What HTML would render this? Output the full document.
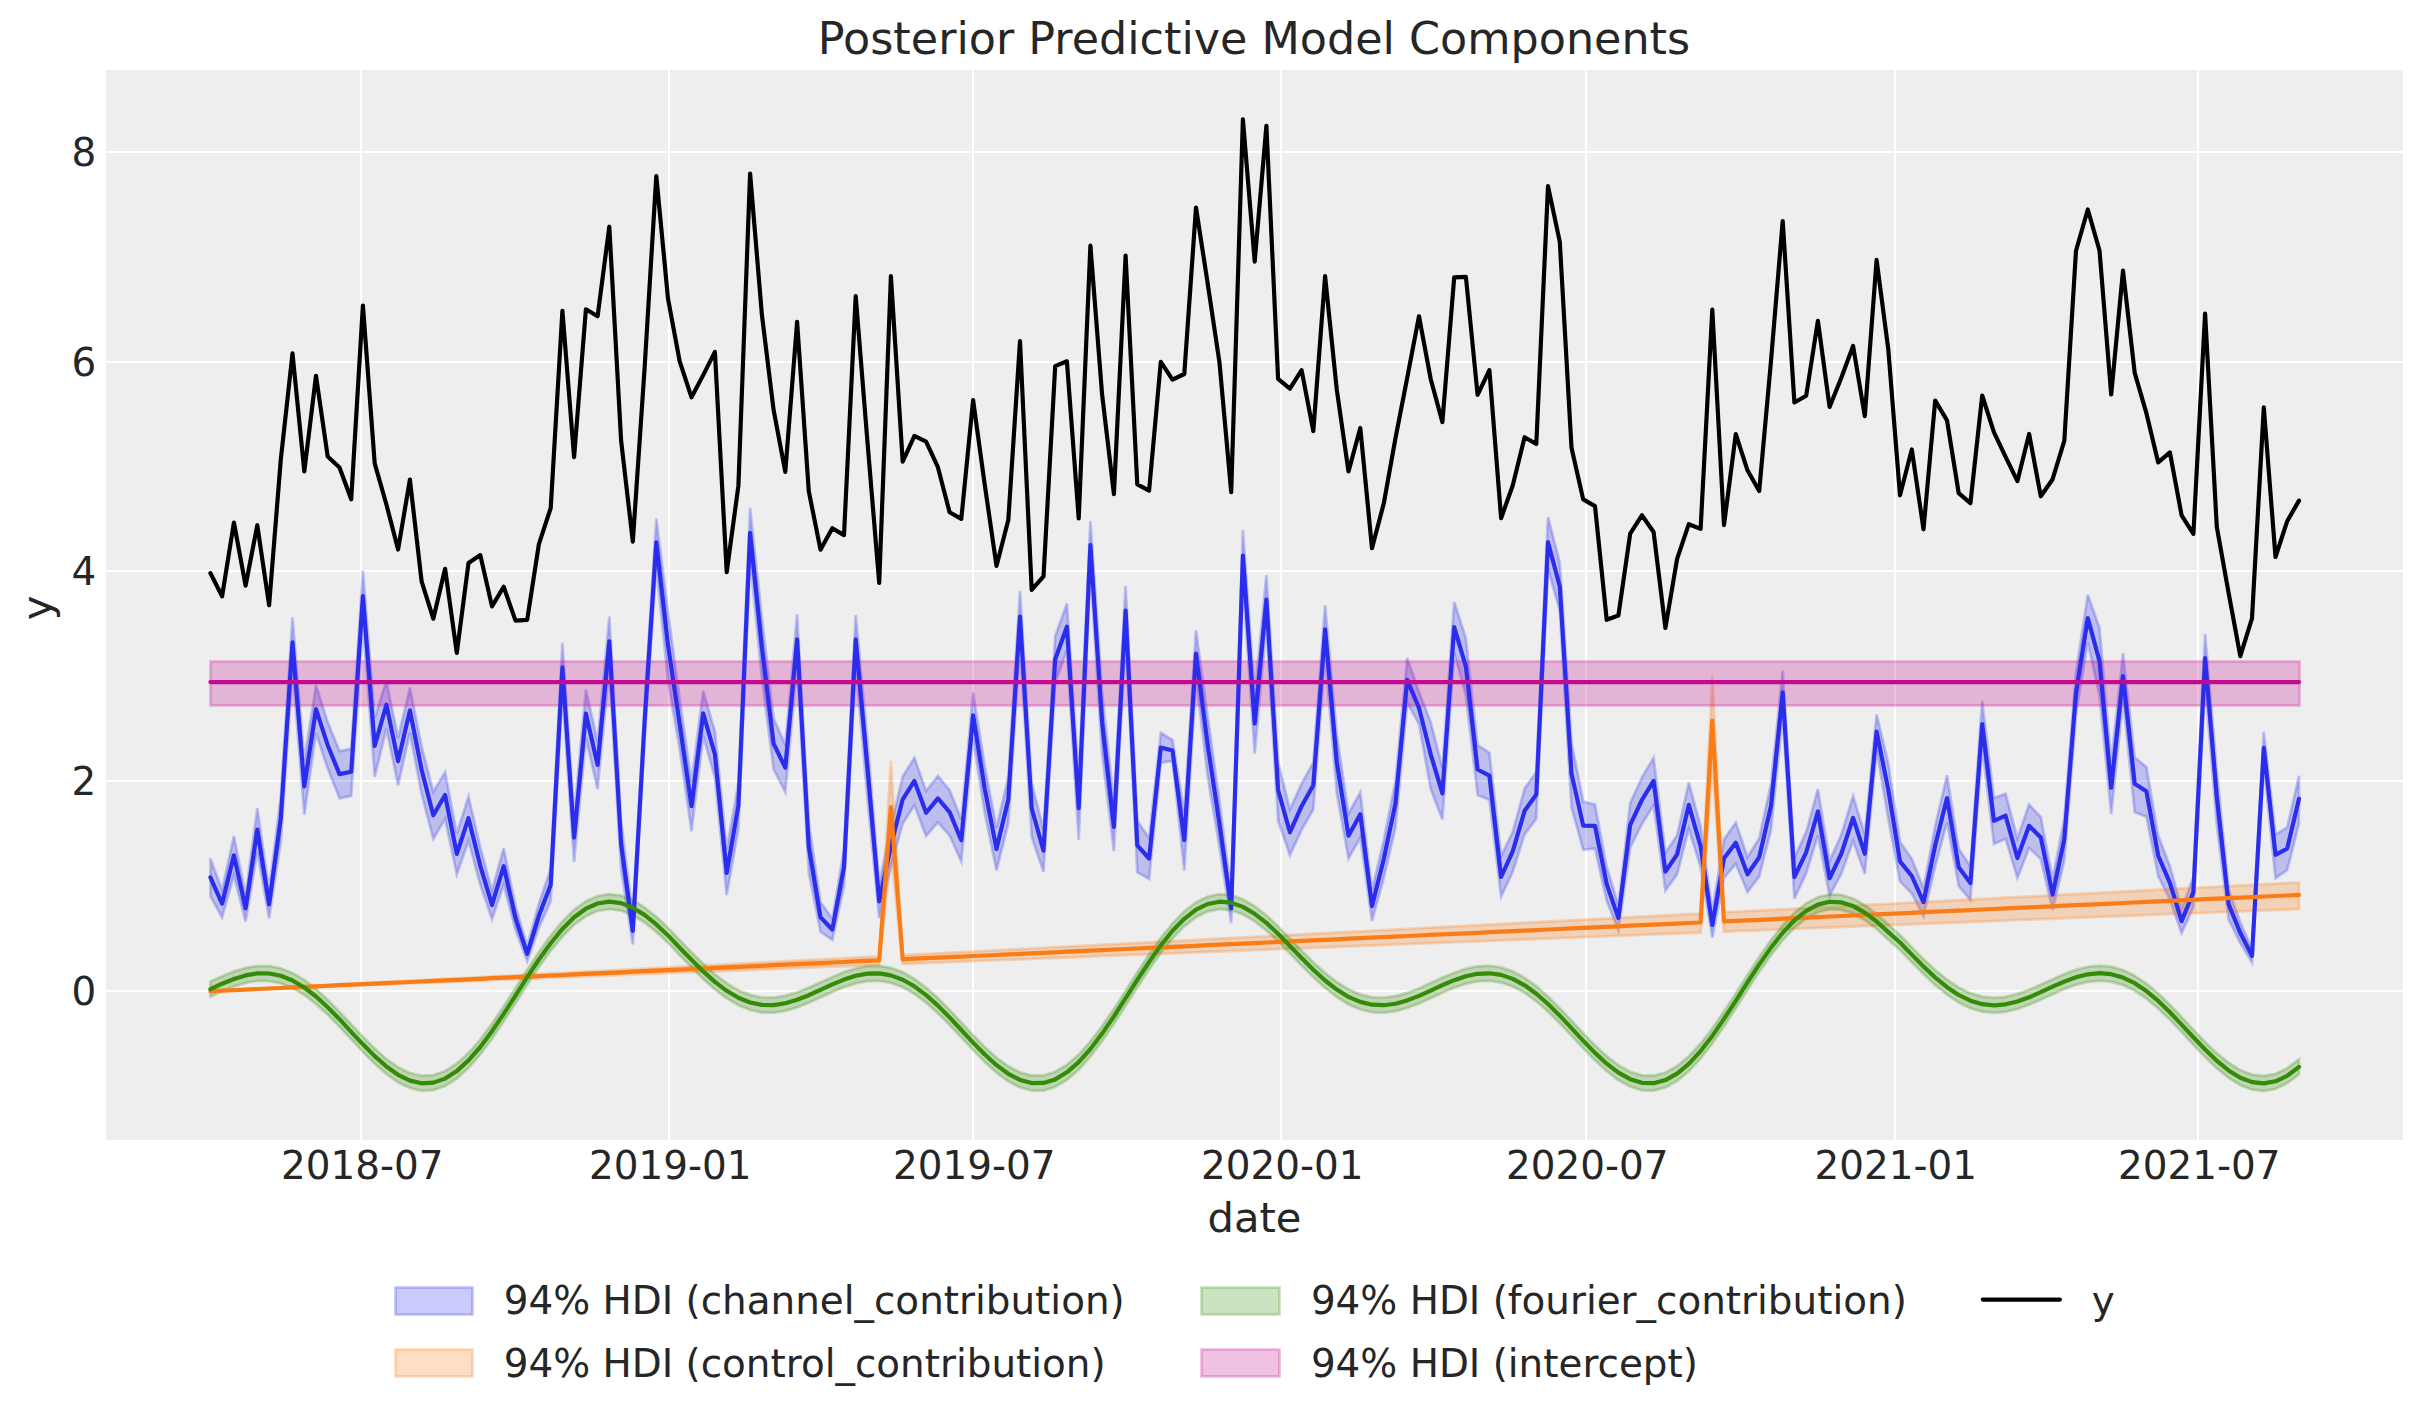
<!DOCTYPE html>
<html lang="en"><head><meta charset="utf-8"><title>Posterior Predictive Model Components</title>
<style>html,body{margin:0;padding:0;background:#fff}svg{display:block}text{font-family:"DejaVu Sans","Liberation Sans",sans-serif;fill:#262626}</style></head><body>
<svg width="2423" height="1423" viewBox="0 0 2423 1423">
<rect width="2423" height="1423" fill="#ffffff"/>
<rect x="106" y="70" width="2297" height="1070" fill="#eeeeee"/>
<g stroke="#ffffff" stroke-width="2" shape-rendering="crispEdges">
<line x1="361" y1="70" x2="361" y2="1140"/>
<line x1="669" y1="70" x2="669" y2="1140"/>
<line x1="973" y1="70" x2="973" y2="1140"/>
<line x1="1281" y1="70" x2="1281" y2="1140"/>
<line x1="1586" y1="70" x2="1586" y2="1140"/>
<line x1="1895" y1="70" x2="1895" y2="1140"/>
<line x1="2198" y1="70" x2="2198" y2="1140"/>
<line x1="106" y1="152" x2="2403" y2="152"/>
<line x1="106" y1="362" x2="2403" y2="362"/>
<line x1="106" y1="571" x2="2403" y2="571"/>
<line x1="106" y1="781" x2="2403" y2="781"/>
<line x1="106" y1="991" x2="2403" y2="991"/>
</g>
<g stroke-width="2.78" stroke-linejoin="miter" fill-opacity="0.25" stroke-opacity="0.25">
<polygon fill="#2a2eec" stroke="#2a2eec" points="210.4,858.5 222.1,890.1 233.9,836.1 245.6,894.9 257.3,808.2 269.1,890.0 280.8,796.4 292.5,617.4 304.3,760.7 316.0,684.9 327.7,722.1 339.5,751.1 351.2,748.8 362.9,570.5 374.7,717.8 386.4,680.3 398.1,738.1 409.9,687.6 421.6,746.4 433.3,791.8 445.1,772.2 456.8,833.4 468.5,796.5 480.3,847.3 492.0,890.4 503.7,848.3 515.5,905.8 527.2,945.9 538.9,903.7 550.7,868.6 562.4,642.6 574.1,816.2 585.9,689.5 597.6,742.0 609.3,616.5 621.1,820.3 632.8,916.6 644.5,707.2 656.3,518.5 668.0,611.6 679.7,698.9 691.5,782.0 703.2,690.7 714.9,731.3 726.7,849.3 738.4,783.3 750.1,508.0 761.9,617.6 773.6,718.6 785.3,744.6 797.1,614.4 808.8,822.7 820.5,902.0 832.3,918.7 844.0,849.2 855.7,615.0 867.5,740.7 879.2,884.3 890.9,826.0 902.7,776.5 914.4,757.8 926.1,790.9 937.9,776.0 949.6,790.1 961.3,819.6 973.1,692.5 984.8,766.2 996.5,827.8 1008.3,777.0 1020.0,591.2 1031.7,783.1 1043.5,829.7 1055.2,635.8 1066.9,603.6 1078.7,779.6 1090.4,521.2 1102.1,692.4 1113.9,803.4 1125.6,585.9 1137.3,820.7 1149.1,838.3 1160.8,732.7 1172.5,740.0 1184.3,812.8 1196.0,630.1 1207.7,716.1 1219.5,801.2 1231.2,892.7 1242.9,529.9 1254.7,695.8 1266.4,575.1 1278.1,761.8 1289.9,809.6 1301.6,783.7 1313.3,762.5 1325.1,605.1 1336.8,734.5 1348.5,813.6 1360.3,792.2 1372.0,890.3 1383.8,840.1 1395.5,780.7 1407.2,658.0 1419.0,691.8 1430.7,722.1 1442.4,767.9 1454.2,602.0 1465.9,638.4 1477.6,745.2 1489.4,752.7 1501.1,856.1 1512.8,831.5 1524.6,788.6 1536.3,771.9 1548.0,517.1 1559.8,562.7 1571.5,742.1 1583.2,801.7 1595.0,804.4 1606.7,867.0 1618.4,905.1 1630.2,803.1 1641.9,777.4 1653.6,757.7 1665.4,852.7 1677.1,835.2 1688.8,782.4 1700.6,826.3 1712.3,911.0 1724.0,839.4 1735.8,822.6 1747.5,857.1 1759.2,838.2 1771.0,783.5 1782.7,670.6 1794.4,857.6 1806.2,831.8 1817.9,789.0 1829.6,860.9 1841.4,834.3 1853.1,795.9 1864.8,834.4 1876.6,714.4 1888.3,763.3 1900.0,841.9 1911.8,858.8 1923.5,888.0 1935.2,825.7 1947.0,775.2 1958.7,848.8 1970.4,866.3 1982.2,701.0 1993.9,797.8 2005.6,793.8 2017.4,838.2 2029.1,804.6 2040.8,817.0 2052.6,878.9 2064.3,818.4 2076.0,672.3 2087.8,594.8 2099.5,627.7 2111.2,761.9 2123.0,653.0 2134.7,757.4 2146.4,767.0 2158.2,835.6 2169.9,865.9 2181.6,908.8 2193.4,877.1 2205.1,634.0 2216.8,771.3 2228.6,888.6 2240.3,922.4 2252.0,948.9 2263.8,731.8 2275.5,834.4 2287.2,827.4 2299.0,775.8 2299.0,823.7 2287.2,870.1 2275.5,878.2 2263.8,764.6 2252.0,962.4 2240.3,943.2 2228.6,919.5 2216.8,825.2 2205.1,683.3 2193.4,907.4 2181.6,933.1 2169.9,899.8 2158.2,876.1 2146.4,816.7 2134.7,812.3 2123.0,699.8 2111.2,814.2 2099.5,696.2 2087.8,642.2 2076.0,714.3 2064.3,860.5 2052.6,910.3 2040.8,859.1 2029.1,848.1 2017.4,877.9 2005.6,838.9 1993.9,844.0 1982.2,747.3 1970.4,899.9 1958.7,886.1 1947.0,822.4 1935.2,866.5 1923.5,916.4 1911.8,893.6 1900.0,881.4 1888.3,819.0 1876.6,749.4 1864.8,873.9 1853.1,841.1 1841.4,873.4 1829.6,895.8 1817.9,835.5 1806.2,873.2 1794.4,898.7 1782.7,715.3 1771.0,829.9 1759.2,876.7 1747.5,892.0 1735.8,863.9 1724.0,877.8 1712.3,937.5 1700.6,867.3 1688.8,828.9 1677.1,874.4 1665.4,890.6 1653.6,805.4 1641.9,824.1 1630.2,847.6 1618.4,930.4 1606.7,900.9 1595.0,848.5 1583.2,849.8 1571.5,807.5 1559.8,611.2 1548.0,568.3 1536.3,818.7 1524.6,834.3 1512.8,871.7 1501.1,896.7 1489.4,799.9 1477.6,795.1 1465.9,695.7 1454.2,653.0 1442.4,819.4 1430.7,789.1 1419.0,724.1 1407.2,702.7 1395.5,827.5 1383.8,878.2 1372.0,921.0 1360.3,837.7 1348.5,858.4 1336.8,793.0 1325.1,655.0 1313.3,809.5 1301.6,830.0 1289.9,855.3 1278.1,820.8 1266.4,625.1 1254.7,753.5 1242.9,581.9 1231.2,923.1 1219.5,847.4 1207.7,776.6 1196.0,678.0 1184.3,870.6 1172.5,760.8 1160.8,762.9 1149.1,878.9 1137.3,872.4 1125.6,636.5 1113.9,851.1 1102.1,754.0 1090.4,569.5 1078.7,839.7 1066.9,650.5 1055.2,683.2 1043.5,871.8 1031.7,836.9 1020.0,642.7 1008.3,823.3 996.5,870.4 984.8,813.5 973.1,738.5 961.3,861.7 949.6,835.5 937.9,822.3 926.1,836.1 914.4,805.4 902.7,823.5 890.9,867.0 879.2,918.0 867.5,799.2 855.7,664.8 844.0,886.2 832.3,940.0 820.5,931.8 808.8,872.7 797.1,665.3 785.3,792.1 773.6,769.3 761.9,678.8 750.1,558.6 738.4,829.2 726.7,895.0 714.9,777.6 703.2,736.1 691.5,831.2 679.7,749.2 668.0,680.3 656.3,566.6 644.5,740.0 632.8,944.5 621.1,869.2 609.3,667.4 597.6,789.2 585.9,738.1 574.1,861.9 562.4,693.1 550.7,901.2 538.9,927.8 527.2,961.1 515.5,930.2 503.7,884.8 492.0,919.1 480.3,884.8 468.5,841.0 456.8,874.4 445.1,818.9 433.3,838.9 421.6,794.0 409.9,732.9 398.1,785.2 386.4,728.6 374.7,776.8 362.9,622.7 351.2,795.9 339.5,798.3 327.7,768.7 316.0,733.1 304.3,814.7 292.5,668.0 280.8,841.5 269.1,918.4 257.3,852.0 245.6,921.6 233.9,875.4 222.1,917.4 210.4,896.3"/>
<polygon fill="#fa7c17" stroke="#fa7c17" points="210.4,991.2 222.1,990.6 233.9,990.0 245.6,989.4 257.3,988.8 269.1,988.1 280.8,987.5 292.5,986.9 304.3,986.3 316.0,985.7 327.7,985.1 339.5,984.5 351.2,983.9 362.9,983.3 374.7,982.6 386.4,982.0 398.1,981.4 409.9,980.8 421.6,980.2 433.3,979.6 445.1,979.0 456.8,978.4 468.5,977.8 480.3,977.1 492.0,976.5 503.7,975.9 515.5,975.3 527.2,974.7 538.9,974.1 550.7,973.5 562.4,972.9 574.1,972.3 585.9,971.6 597.6,971.0 609.3,970.4 621.1,969.8 632.8,969.2 644.5,968.6 656.3,968.0 668.0,967.4 679.7,966.7 691.5,966.1 703.2,965.5 714.9,964.9 726.7,964.3 738.4,963.7 750.1,963.1 761.9,962.5 773.6,961.9 785.3,961.2 797.1,960.6 808.8,960.0 820.5,959.4 832.3,958.8 844.0,958.2 855.7,957.6 867.5,957.0 879.2,956.4 890.9,760.9 902.7,955.1 914.4,954.5 926.1,953.9 937.9,953.3 949.6,952.7 961.3,952.1 973.1,951.5 984.8,950.9 996.5,950.2 1008.3,949.6 1020.0,949.0 1031.7,948.4 1043.5,947.8 1055.2,947.2 1066.9,946.6 1078.7,946.0 1090.4,945.4 1102.1,944.7 1113.9,944.1 1125.6,943.5 1137.3,942.9 1149.1,942.3 1160.8,941.7 1172.5,941.1 1184.3,940.5 1196.0,939.9 1207.7,939.2 1219.5,938.6 1231.2,938.0 1242.9,937.4 1254.7,936.8 1266.4,936.2 1278.1,935.6 1289.9,935.0 1301.6,934.4 1313.3,933.7 1325.1,933.1 1336.8,932.5 1348.5,931.9 1360.3,931.3 1372.0,930.7 1383.8,930.1 1395.5,929.5 1407.2,928.9 1419.0,928.2 1430.7,927.6 1442.4,927.0 1454.2,926.4 1465.9,925.8 1477.6,925.2 1489.4,924.6 1501.1,924.0 1512.8,923.3 1524.6,922.7 1536.3,922.1 1548.0,921.5 1559.8,920.9 1571.5,920.3 1583.2,919.7 1595.0,919.1 1606.7,918.5 1618.4,917.8 1630.2,917.2 1641.9,916.6 1653.6,916.0 1665.4,915.4 1677.1,914.8 1688.8,914.2 1700.6,913.6 1712.3,675.7 1724.0,912.3 1735.8,911.7 1747.5,911.1 1759.2,910.5 1771.0,909.9 1782.7,909.3 1794.4,908.7 1806.2,908.1 1817.9,907.5 1829.6,906.8 1841.4,906.2 1853.1,905.6 1864.8,905.0 1876.6,904.4 1888.3,903.8 1900.0,903.2 1911.8,902.6 1923.5,902.0 1935.2,901.3 1947.0,900.7 1958.7,900.1 1970.4,899.5 1982.2,898.9 1993.9,898.3 2005.6,897.7 2017.4,897.1 2029.1,896.5 2040.8,895.8 2052.6,895.2 2064.3,894.6 2076.0,894.0 2087.8,893.4 2099.5,892.8 2111.2,892.2 2123.0,891.6 2134.7,891.0 2146.4,890.3 2158.2,889.7 2169.9,889.1 2181.6,888.5 2193.4,887.9 2205.1,887.3 2216.8,886.7 2228.6,886.1 2240.3,885.4 2252.0,884.8 2263.8,884.2 2275.5,883.6 2287.2,883.0 2299.0,882.4 2299.0,909.1 2287.2,909.5 2275.5,910.0 2263.8,910.4 2252.0,910.9 2240.3,911.4 2228.6,911.8 2216.8,912.3 2205.1,912.8 2193.4,913.2 2181.6,913.7 2169.9,914.1 2158.2,914.6 2146.4,915.1 2134.7,915.5 2123.0,916.0 2111.2,916.4 2099.5,916.9 2087.8,917.4 2076.0,917.8 2064.3,918.3 2052.6,918.8 2040.8,919.2 2029.1,919.7 2017.4,920.1 2005.6,920.6 1993.9,921.1 1982.2,921.5 1970.4,922.0 1958.7,922.4 1947.0,922.9 1935.2,923.4 1923.5,923.8 1911.8,924.3 1900.0,924.8 1888.3,925.2 1876.6,925.7 1864.8,926.1 1853.1,926.6 1841.4,927.1 1829.6,927.5 1817.9,928.0 1806.2,928.4 1794.4,928.9 1782.7,929.4 1771.0,929.8 1759.2,930.3 1747.5,930.8 1735.8,931.2 1724.0,931.7 1712.3,765.7 1700.6,932.6 1688.8,933.1 1677.1,933.5 1665.4,934.0 1653.6,934.4 1641.9,934.9 1630.2,935.4 1618.4,935.8 1606.7,936.3 1595.0,936.8 1583.2,937.2 1571.5,937.7 1559.8,938.1 1548.0,938.6 1536.3,939.1 1524.6,939.5 1512.8,940.0 1501.1,940.4 1489.4,940.9 1477.6,941.4 1465.9,941.8 1454.2,942.3 1442.4,942.7 1430.7,943.2 1419.0,943.7 1407.2,944.1 1395.5,944.6 1383.8,945.1 1372.0,945.5 1360.3,946.0 1348.5,946.4 1336.8,946.9 1325.1,947.4 1313.3,947.8 1301.6,948.3 1289.9,948.7 1278.1,949.2 1266.4,949.7 1254.7,950.1 1242.9,950.6 1231.2,951.1 1219.5,951.5 1207.7,952.0 1196.0,952.4 1184.3,952.9 1172.5,953.4 1160.8,953.8 1149.1,954.3 1137.3,954.7 1125.6,955.2 1113.9,955.7 1102.1,956.1 1090.4,956.6 1078.7,957.1 1066.9,957.5 1055.2,958.0 1043.5,958.4 1031.7,958.9 1020.0,959.4 1008.3,959.8 996.5,960.3 984.8,960.7 973.1,961.2 961.3,961.7 949.6,962.1 937.9,962.6 926.1,963.1 914.4,963.5 902.7,964.0 890.9,853.1 879.2,964.9 867.5,965.4 855.7,965.8 844.0,966.3 832.3,966.7 820.5,967.2 808.8,967.7 797.1,968.1 785.3,968.6 773.6,969.1 761.9,969.5 750.1,970.0 738.4,970.4 726.7,970.9 714.9,971.4 703.2,971.8 691.5,972.3 679.7,972.7 668.0,973.2 656.3,973.7 644.5,974.1 632.8,974.6 621.1,975.0 609.3,975.5 597.6,976.0 585.9,976.4 574.1,976.9 562.4,977.4 550.7,977.8 538.9,978.3 527.2,978.7 515.5,979.2 503.7,979.7 492.0,980.1 480.3,980.6 468.5,981.0 456.8,981.5 445.1,982.0 433.3,982.4 421.6,982.9 409.9,983.4 398.1,983.8 386.4,984.3 374.7,984.7 362.9,985.2 351.2,985.7 339.5,986.1 327.7,986.6 316.0,987.0 304.3,987.5 292.5,988.0 280.8,988.4 269.1,988.9 257.3,989.4 245.6,989.8 233.9,990.3 222.1,990.7 210.4,991.2"/>
<polygon fill="#328c06" stroke="#328c06" points="210.4,981.5 222.1,976.2 233.9,971.4 245.6,967.8 257.3,965.9 269.1,966.0 280.8,968.3 292.5,973.0 304.3,979.9 316.0,989.0 327.7,999.7 339.5,1011.7 351.2,1024.2 362.9,1036.8 374.7,1048.6 386.4,1059.0 398.1,1067.3 409.9,1073.0 421.6,1075.7 433.3,1075.1 445.1,1071.0 456.8,1063.5 468.5,1052.9 480.3,1039.4 492.0,1023.7 503.7,1006.3 515.5,988.0 527.2,969.7 538.9,951.9 550.7,935.6 562.4,921.4 574.1,909.7 585.9,901.2 597.6,895.9 609.3,894.1 621.1,895.6 632.8,900.1 644.5,907.4 656.3,916.8 668.0,927.8 679.7,940.1 691.5,952.2 703.2,963.8 714.9,974.3 726.7,983.2 738.4,990.2 750.1,994.9 761.9,997.4 773.6,997.6 785.3,995.7 797.1,992.3 808.8,987.6 820.5,982.3 832.3,976.9 844.0,972.0 855.7,968.3 867.5,966.1 879.2,965.8 890.9,967.8 902.7,972.1 914.4,978.8 926.1,987.6 937.9,998.1 949.6,1009.9 961.3,1022.4 973.1,1035.0 984.8,1047.0 996.5,1057.6 1008.3,1066.3 1020.0,1072.4 1031.7,1075.5 1043.5,1075.4 1055.2,1071.8 1066.9,1064.8 1078.7,1054.6 1090.4,1041.5 1102.1,1026.0 1113.9,1008.9 1125.6,990.7 1137.3,972.3 1149.1,954.4 1160.8,937.8 1172.5,923.3 1184.3,911.2 1196.0,902.2 1207.7,896.5 1219.5,894.1 1231.2,895.2 1242.9,899.3 1254.7,906.2 1266.4,915.4 1278.1,926.2 1289.9,938.4 1301.6,950.5 1313.3,962.2 1325.1,972.9 1336.8,982.1 1348.5,989.3 1360.3,994.4 1372.0,997.2 1383.8,997.7 1395.5,996.1 1407.2,992.9 1419.0,988.3 1430.7,983.1 1442.4,977.6 1454.2,972.7 1465.9,968.7 1477.6,966.3 1489.4,965.7 1501.1,967.4 1512.8,971.4 1524.6,977.7 1536.3,986.2 1548.0,996.5 1559.8,1008.2 1571.5,1020.6 1583.2,1033.2 1595.0,1045.3 1606.7,1056.2 1618.4,1065.2 1630.2,1071.7 1641.9,1075.3 1653.6,1075.6 1665.4,1072.5 1677.1,1066.0 1688.8,1056.2 1700.6,1043.5 1712.3,1028.4 1724.0,1011.4 1735.8,993.3 1747.5,974.9 1759.2,956.9 1771.0,940.1 1782.7,925.2 1794.4,912.8 1806.2,903.3 1817.9,897.1 1829.6,894.3 1841.4,894.8 1853.1,898.5 1864.8,905.1 1876.6,913.9 1888.3,924.5 1900.0,935.0 1911.8,947.1 1923.5,958.9 1935.2,970.0 1947.0,979.6 1958.7,987.5 1970.4,993.2 1982.2,996.6 1993.9,997.7 2005.6,996.8 2017.4,993.9 2029.1,989.7 2040.8,984.6 2052.6,979.2 2064.3,974.0 2076.0,969.7 2087.8,966.8 2099.5,965.7 2111.2,966.7 2123.0,970.0 2134.7,975.7 2146.4,983.6 2158.2,993.4 2169.9,1004.7 2181.6,1017.0 2193.4,1029.7 2205.1,1042.0 2216.8,1053.2 2228.6,1062.8 2240.3,1070.1 2252.0,1074.6 2263.8,1075.9 2275.5,1073.8 2287.2,1068.2 2299.0,1059.3 2299.0,1074.4 2287.2,1083.3 2275.5,1088.9 2263.8,1091.0 2252.0,1089.7 2240.3,1085.2 2228.6,1077.9 2216.8,1068.3 2205.1,1057.1 2193.4,1044.8 2181.6,1032.1 2169.9,1019.8 2158.2,1008.5 2146.4,998.7 2134.7,990.8 2123.0,985.1 2111.2,981.8 2099.5,980.8 2087.8,981.9 2076.0,984.8 2064.3,989.1 2052.6,994.3 2040.8,999.7 2029.1,1004.8 2017.4,1009.0 2005.6,1011.9 1993.9,1012.8 1982.2,1011.7 1970.4,1008.3 1958.7,1002.6 1947.0,994.7 1935.2,985.1 1923.5,974.0 1911.8,962.2 1900.0,950.1 1888.3,939.7 1876.6,929.0 1864.8,920.2 1853.1,913.6 1841.4,909.9 1829.6,909.4 1817.9,912.2 1806.2,918.4 1794.4,927.9 1782.7,940.3 1771.0,955.2 1759.2,972.0 1747.5,990.0 1735.8,1008.4 1724.0,1026.5 1712.3,1043.5 1700.6,1058.6 1688.8,1071.3 1677.1,1081.1 1665.4,1087.6 1653.6,1090.7 1641.9,1090.4 1630.2,1086.8 1618.4,1080.3 1606.7,1071.3 1595.0,1060.4 1583.2,1048.3 1571.5,1035.7 1559.8,1023.3 1548.0,1011.6 1536.3,1001.3 1524.6,992.8 1512.8,986.5 1501.1,982.5 1489.4,980.8 1477.6,981.4 1465.9,983.8 1454.2,987.8 1442.4,992.8 1430.7,998.2 1419.0,1003.4 1407.2,1008.0 1395.5,1011.2 1383.8,1012.8 1372.0,1012.3 1360.3,1009.5 1348.5,1004.4 1336.8,997.2 1325.1,988.0 1313.3,977.3 1301.6,965.6 1289.9,953.5 1278.1,941.3 1266.4,930.5 1254.7,921.3 1242.9,914.4 1231.2,910.3 1219.5,909.2 1207.7,911.6 1196.0,917.3 1184.3,926.3 1172.5,938.4 1160.8,952.9 1149.1,969.5 1137.3,987.4 1125.6,1005.8 1113.9,1024.0 1102.1,1041.1 1090.4,1056.6 1078.7,1069.7 1066.9,1079.9 1055.2,1086.9 1043.5,1090.5 1031.7,1090.6 1020.0,1087.5 1008.3,1081.4 996.5,1072.7 984.8,1062.1 973.1,1050.1 961.3,1037.5 949.6,1025.0 937.9,1013.2 926.1,1002.7 914.4,993.9 902.7,987.3 890.9,982.9 879.2,980.9 867.5,981.2 855.7,983.4 844.0,987.1 832.3,992.0 820.5,997.4 808.8,1002.7 797.1,1007.4 785.3,1010.9 773.6,1012.7 761.9,1012.5 750.1,1010.0 738.4,1005.3 726.7,998.4 714.9,989.4 703.2,978.9 691.5,967.3 679.7,955.2 668.0,942.9 656.3,931.9 644.5,922.5 632.8,915.2 621.1,910.7 609.3,909.2 597.6,911.0 585.9,916.3 574.1,924.8 562.4,936.5 550.7,950.7 538.9,967.0 527.2,984.8 515.5,1003.2 503.7,1021.4 492.0,1038.8 480.3,1054.5 468.5,1068.0 456.8,1078.6 445.1,1086.1 433.3,1090.2 421.6,1090.8 409.9,1088.1 398.1,1082.4 386.4,1074.1 374.7,1063.7 362.9,1051.9 351.2,1039.3 339.5,1026.8 327.7,1014.8 316.0,1004.1 304.3,995.0 292.5,988.1 280.8,983.4 269.1,981.1 257.3,981.0 245.6,982.9 233.9,986.5 222.1,991.3 210.4,996.6"/>
<rect fill="#c10c90" stroke="#c10c90" x="210.5" y="661.5" width="2089" height="44"/>
</g>
<g fill="none" stroke-width="4.17" stroke-linecap="round" stroke-linejoin="round">
<polyline stroke="#2a2eec" points="210.4,877.3 222.1,903.7 233.9,855.3 245.6,908.3 257.3,829.6 269.1,904.3 280.8,818.3 292.5,642.3 304.3,786.5 316.0,709.1 327.7,745.2 339.5,774.1 351.2,771.8 362.9,596.1 374.7,746.0 386.4,704.7 398.1,761.1 409.9,710.4 421.6,769.7 433.3,815.3 445.1,795.0 456.8,853.9 468.5,818.2 480.3,865.8 492.0,904.9 503.7,866.2 515.5,918.1 527.2,953.9 538.9,915.8 550.7,884.7 562.4,667.4 574.1,837.6 585.9,713.7 597.6,764.9 609.3,641.4 621.1,844.0 632.8,931.0 644.5,723.4 656.3,542.3 668.0,645.1 679.7,724.1 691.5,806.2 703.2,713.4 714.9,754.2 726.7,873.0 738.4,805.5 750.1,532.9 761.9,647.4 773.6,743.6 785.3,767.7 797.1,639.4 808.8,846.9 820.5,917.3 832.3,929.6 844.0,867.3 855.7,639.4 867.5,768.4 879.2,901.3 890.9,846.0 902.7,799.3 914.4,780.9 926.1,812.8 937.9,798.4 949.6,812.1 961.3,840.3 973.1,715.3 984.8,789.1 996.5,849.0 1008.3,799.4 1020.0,616.5 1031.7,808.4 1043.5,850.7 1055.2,659.2 1066.9,626.6 1078.7,808.1 1090.4,545.2 1102.1,722.2 1113.9,826.9 1125.6,610.7 1137.3,845.3 1149.1,858.5 1160.8,747.5 1172.5,750.5 1184.3,840.2 1196.0,653.5 1207.7,745.1 1219.5,824.1 1231.2,908.3 1242.9,555.5 1254.7,723.5 1266.4,599.7 1278.1,790.0 1289.9,832.3 1301.6,806.2 1313.3,785.3 1325.1,629.4 1336.8,762.3 1348.5,835.7 1360.3,814.3 1372.0,906.1 1383.8,858.9 1395.5,803.3 1407.2,679.9 1419.0,708.0 1430.7,754.3 1442.4,793.4 1454.2,627.2 1465.9,666.7 1477.6,769.5 1489.4,775.6 1501.1,877.0 1512.8,851.2 1524.6,810.8 1536.3,794.5 1548.0,542.2 1559.8,586.5 1571.5,773.6 1583.2,825.6 1595.0,825.8 1606.7,884.1 1618.4,918.1 1630.2,824.8 1641.9,800.0 1653.6,780.9 1665.4,871.7 1677.1,854.5 1688.8,804.9 1700.6,846.3 1712.3,925.0 1724.0,858.3 1735.8,842.8 1747.5,874.3 1759.2,857.2 1771.0,806.0 1782.7,692.4 1794.4,877.0 1806.2,852.3 1817.9,811.5 1829.6,878.3 1841.4,853.5 1853.1,817.9 1864.8,853.8 1876.6,731.6 1888.3,789.8 1900.0,861.4 1911.8,876.0 1923.5,902.1 1935.2,845.5 1947.0,798.0 1958.7,867.3 1970.4,883.0 1982.2,724.2 1993.9,820.8 2005.6,815.7 2017.4,858.0 2029.1,825.8 2040.8,837.5 2052.6,894.7 2064.3,839.1 2076.0,692.8 2087.8,618.1 2099.5,661.1 2111.2,787.7 2123.0,676.2 2134.7,783.8 2146.4,791.3 2158.2,855.7 2169.9,882.9 2181.6,921.2 2193.4,892.1 2205.1,658.1 2216.8,796.7 2228.6,904.1 2240.3,933.0 2252.0,955.9 2263.8,747.8 2275.5,854.8 2287.2,848.5 2299.0,798.8"/>
<polyline stroke="#fa7c17" points="210.4,991.2 222.1,990.7 233.9,990.1 245.6,989.6 257.3,989.0 269.1,988.5 280.8,988.0 292.5,987.4 304.3,986.9 316.0,986.3 327.7,985.8 339.5,985.2 351.2,984.7 362.9,984.2 374.7,983.6 386.4,983.1 398.1,982.5 409.9,982.0 421.6,981.5 433.3,980.9 445.1,980.4 456.8,979.8 468.5,979.3 480.3,978.8 492.0,978.2 503.7,977.7 515.5,977.1 527.2,976.6 538.9,976.1 550.7,975.5 562.4,975.0 574.1,974.4 585.9,973.9 597.6,973.3 609.3,972.8 621.1,972.3 632.8,971.7 644.5,971.2 656.3,970.6 668.0,970.1 679.7,969.6 691.5,969.0 703.2,968.5 714.9,967.9 726.7,967.4 738.4,966.9 750.1,966.3 761.9,965.8 773.6,965.2 785.3,964.7 797.1,964.2 808.8,963.6 820.5,963.1 832.3,962.5 844.0,962.0 855.7,961.4 867.5,960.9 879.2,960.4 890.9,807.0 902.7,959.3 914.4,958.7 926.1,958.2 937.9,957.7 949.6,957.1 961.3,956.6 973.1,956.0 984.8,955.5 996.5,955.0 1008.3,954.4 1020.0,953.9 1031.7,953.3 1043.5,952.8 1055.2,952.3 1066.9,951.7 1078.7,951.2 1090.4,950.6 1102.1,950.1 1113.9,949.5 1125.6,949.0 1137.3,948.5 1149.1,947.9 1160.8,947.4 1172.5,946.8 1184.3,946.3 1196.0,945.8 1207.7,945.2 1219.5,944.7 1231.2,944.1 1242.9,943.6 1254.7,943.1 1266.4,942.5 1278.1,942.0 1289.9,941.4 1301.6,940.9 1313.3,940.4 1325.1,939.8 1336.8,939.3 1348.5,938.7 1360.3,938.2 1372.0,937.6 1383.8,937.1 1395.5,936.6 1407.2,936.0 1419.0,935.5 1430.7,934.9 1442.4,934.4 1454.2,933.9 1465.9,933.3 1477.6,932.8 1489.4,932.2 1501.1,931.7 1512.8,931.2 1524.6,930.6 1536.3,930.1 1548.0,929.5 1559.8,929.0 1571.5,928.4 1583.2,927.9 1595.0,927.4 1606.7,926.8 1618.4,926.3 1630.2,925.7 1641.9,925.2 1653.6,924.7 1665.4,924.1 1677.1,923.6 1688.8,923.0 1700.6,922.5 1712.3,720.6 1724.0,921.4 1735.8,920.9 1747.5,920.3 1759.2,919.8 1771.0,919.3 1782.7,918.7 1794.4,918.2 1806.2,917.6 1817.9,917.1 1829.6,916.5 1841.4,916.0 1853.1,915.5 1864.8,914.9 1876.6,914.4 1888.3,913.8 1900.0,913.3 1911.8,912.8 1923.5,912.2 1935.2,911.7 1947.0,911.1 1958.7,910.6 1970.4,910.1 1982.2,909.5 1993.9,909.0 2005.6,908.4 2017.4,907.9 2029.1,907.4 2040.8,906.8 2052.6,906.3 2064.3,905.7 2076.0,905.2 2087.8,904.6 2099.5,904.1 2111.2,903.6 2123.0,903.0 2134.7,902.5 2146.4,901.9 2158.2,901.4 2169.9,900.9 2181.6,900.3 2193.4,899.8 2205.1,899.2 2216.8,898.7 2228.6,898.2 2240.3,897.6 2252.0,897.1 2263.8,896.5 2275.5,896.0 2287.2,895.5 2299.0,894.9"/>
<polyline stroke="#328c06" points="210.4,989.1 222.1,983.7 233.9,979.0 245.6,975.4 257.3,973.4 269.1,973.5 280.8,975.8 292.5,980.5 304.3,987.5 316.0,996.5 327.7,1007.3 339.5,1019.2 351.2,1031.8 362.9,1044.3 374.7,1056.1 386.4,1066.5 398.1,1074.8 409.9,1080.6 421.6,1083.3 433.3,1082.6 445.1,1078.6 456.8,1071.1 468.5,1060.4 480.3,1047.0 492.0,1031.2 503.7,1013.9 515.5,995.6 527.2,977.2 538.9,959.5 550.7,943.2 562.4,928.9 574.1,917.3 585.9,908.7 597.6,903.5 609.3,901.6 621.1,903.1 632.8,907.7 644.5,914.9 656.3,924.4 668.0,935.4 679.7,947.7 691.5,959.8 703.2,971.4 714.9,981.9 726.7,990.8 738.4,997.8 750.1,1002.5 761.9,1004.9 773.6,1005.1 785.3,1003.3 797.1,999.8 808.8,995.2 820.5,989.8 832.3,984.4 844.0,979.6 855.7,975.8 867.5,973.6 879.2,973.4 890.9,975.4 902.7,979.7 914.4,986.3 926.1,995.1 937.9,1005.6 949.6,1017.4 961.3,1030.0 973.1,1042.6 984.8,1054.5 996.5,1065.1 1008.3,1073.8 1020.0,1079.9 1031.7,1083.1 1043.5,1082.9 1055.2,1079.4 1066.9,1072.3 1078.7,1062.1 1090.4,1049.0 1102.1,1033.6 1113.9,1016.4 1125.6,998.2 1137.3,979.8 1149.1,962.0 1160.8,945.4 1172.5,930.8 1184.3,918.8 1196.0,909.7 1207.7,904.0 1219.5,901.7 1231.2,902.7 1242.9,906.9 1254.7,913.8 1266.4,922.9 1278.1,933.7 1289.9,946.0 1301.6,958.0 1313.3,969.8 1325.1,980.5 1336.8,989.6 1348.5,996.9 1360.3,1001.9 1372.0,1004.7 1383.8,1005.2 1395.5,1003.7 1407.2,1000.4 1419.0,995.9 1430.7,990.6 1442.4,985.2 1454.2,980.2 1465.9,976.3 1477.6,973.8 1489.4,973.3 1501.1,974.9 1512.8,978.9 1524.6,985.3 1536.3,993.7 1548.0,1004.0 1559.8,1015.7 1571.5,1028.2 1583.2,1040.8 1595.0,1052.9 1606.7,1063.7 1618.4,1072.7 1630.2,1079.2 1641.9,1082.8 1653.6,1083.2 1665.4,1080.1 1677.1,1073.6 1688.8,1063.8 1700.6,1051.1 1712.3,1035.9 1724.0,1018.9 1735.8,1000.9 1747.5,982.4 1759.2,964.4 1771.0,947.6 1782.7,932.7 1794.4,920.3 1806.2,910.8 1817.9,904.6 1829.6,901.8 1841.4,902.4 1853.1,906.1 1864.8,912.6 1876.6,921.5 1888.3,932.1 1900.0,942.5 1911.8,954.6 1923.5,966.5 1935.2,977.5 1947.0,987.2 1958.7,995.0 1970.4,1000.7 1982.2,1004.2 1993.9,1005.3 2005.6,1004.3 2017.4,1001.5 2029.1,997.3 2040.8,992.2 2052.6,986.7 2064.3,981.6 2076.0,977.3 2087.8,974.3 2099.5,973.2 2111.2,974.2 2123.0,977.6 2134.7,983.2 2146.4,991.1 2158.2,1000.9 2169.9,1012.3 2181.6,1024.6 2193.4,1037.2 2205.1,1049.5 2216.8,1060.8 2228.6,1070.4 2240.3,1077.7 2252.0,1082.1 2263.8,1083.4 2275.5,1081.3 2287.2,1075.8 2299.0,1066.9"/>
<polyline stroke="#c10c90" points="210.4,682.1 2299.0,682.1"/>
<polyline stroke="#000000" points="210.4,573.1 222.1,596.3 233.9,522.5 245.6,585.7 257.3,525.2 269.1,605.3 280.8,459.5 292.5,353.4 304.3,471.4 316.0,375.8 327.7,456.5 339.5,467.5 351.2,499.3 362.9,305.5 374.7,463.4 386.4,504.5 398.1,549.5 409.9,479.6 421.6,581.3 433.3,618.7 445.1,568.8 456.8,652.9 468.5,563.1 480.3,555.1 492.0,606.4 503.7,586.8 515.5,620.6 527.2,619.8 538.9,544.1 550.7,508.1 562.4,310.9 574.1,457.1 585.9,309.3 597.6,316.2 609.3,226.7 621.1,440.5 632.8,541.6 644.5,369.7 656.3,176.0 668.0,298.7 679.7,361.3 691.5,397.3 703.2,375.1 714.9,351.9 726.7,572.1 738.4,485.7 750.1,173.5 761.9,314.8 773.6,409.9 785.3,471.9 797.1,321.9 808.8,491.3 820.5,549.7 832.3,528.2 844.0,535.1 855.7,296.0 867.5,442.4 879.2,582.9 890.9,276.2 902.7,461.6 914.4,435.9 926.1,441.6 937.9,467.2 949.6,512.3 961.3,518.9 973.1,400.1 984.8,485.1 996.5,565.9 1008.3,520.1 1020.0,341.1 1031.7,589.8 1043.5,576.4 1055.2,366.1 1066.9,361.3 1078.7,518.3 1090.4,245.6 1102.1,394.6 1113.9,494.1 1125.6,255.7 1137.3,484.4 1149.1,490.6 1160.8,361.9 1172.5,379.7 1184.3,374.0 1196.0,207.5 1207.7,283.6 1219.5,362.8 1231.2,492.1 1242.9,119.3 1254.7,261.6 1266.4,125.8 1278.1,378.9 1289.9,388.7 1301.6,370.2 1313.3,431.1 1325.1,276.2 1336.8,389.7 1348.5,471.5 1360.3,428.0 1372.0,548.2 1383.8,503.3 1395.5,438.1 1407.2,377.8 1419.0,316.2 1430.7,379.0 1442.4,422.1 1454.2,277.3 1465.9,276.9 1477.6,394.9 1489.4,370.1 1501.1,518.2 1512.8,485.2 1524.6,437.2 1536.3,444.0 1548.0,186.1 1559.8,241.9 1571.5,447.7 1583.2,499.4 1595.0,506.1 1606.7,619.8 1618.4,615.5 1630.2,533.6 1641.9,515.3 1653.6,532.0 1665.4,628.0 1677.1,558.9 1688.8,524.2 1700.6,528.9 1712.3,309.7 1724.0,525.1 1735.8,434.1 1747.5,470.3 1759.2,491.0 1771.0,361.0 1782.7,221.0 1794.4,402.5 1806.2,395.7 1817.9,320.8 1829.6,407.0 1841.4,377.4 1853.1,346.0 1864.8,416.1 1876.6,259.9 1888.3,349.4 1900.0,495.3 1911.8,449.5 1923.5,529.3 1935.2,400.6 1947.0,420.4 1958.7,493.1 1970.4,503.2 1982.2,395.5 1993.9,432.2 2005.6,456.9 2017.4,481.2 2029.1,433.9 2040.8,496.3 2052.6,479.2 2064.3,440.8 2076.0,250.7 2087.8,209.5 2099.5,250.5 2111.2,394.5 2123.0,270.7 2134.7,372.8 2146.4,413.2 2158.2,462.4 2169.9,452.4 2181.6,515.3 2193.4,533.9 2205.1,313.7 2216.8,526.8 2228.6,592.9 2240.3,656.1 2252.0,618.3 2263.8,407.3 2275.5,557.0 2287.2,521.2 2299.0,500.6"/>
</g>
<text x="1254.0" y="54" font-size="44.44" text-anchor="middle">Posterior Predictive Model Components</text>
<g font-size="38.89" text-anchor="middle">
<text x="362.3" y="1178.7">2018-07</text>
<text x="670.3" y="1178.7">2019-01</text>
<text x="974.3" y="1178.7">2019-07</text>
<text x="1282.3" y="1178.7">2020-01</text>
<text x="1587.3" y="1178.7">2020-07</text>
<text x="1895.7" y="1178.7">2021-01</text>
<text x="2199.3" y="1178.7">2021-07</text>
</g>
<g font-size="38.89" text-anchor="end">
<text x="96.3" y="166.4">8</text>
<text x="96.3" y="376.4">6</text>
<text x="96.3" y="585.4">4</text>
<text x="96.3" y="795.4">2</text>
<text x="96.3" y="1005.4">0</text>
</g>
<text x="1254.5" y="1231.5" font-size="41.67" text-anchor="middle">date</text>
<text transform="translate(50.5,607.8) rotate(-90)" font-size="41.67" text-anchor="middle">y</text>
<g stroke-width="2.78" fill-opacity="0.25" stroke-opacity="0.25">
<rect x="395.5" y="1287.5" width="77" height="27" fill="#2a2eec" stroke="#2a2eec"/>
<rect x="395.5" y="1349.5" width="77" height="27" fill="#fa7c17" stroke="#fa7c17"/>
<rect x="1201.5" y="1287.5" width="78" height="27" fill="#328c06" stroke="#328c06"/>
<rect x="1201.5" y="1349.5" width="78" height="27" fill="#c10c90" stroke="#c10c90"/>
</g>
<line x1="1982.8" y1="1299.6" x2="2059.9" y2="1299.6" stroke="#000" stroke-width="4.17" stroke-linecap="round"/>
<g font-size="38.89">
<text x="503.8" y="1313.7">94% HDI (channel_contribution)</text>
<text x="503.8" y="1377.3">94% HDI (control_contribution)</text>
<text x="1310.9" y="1313.7">94% HDI (fourier_contribution)</text>
<text x="1310.9" y="1377.3">94% HDI (intercept)</text>
<text x="2091.7" y="1313.7">y</text>
</g>
</svg></body></html>
